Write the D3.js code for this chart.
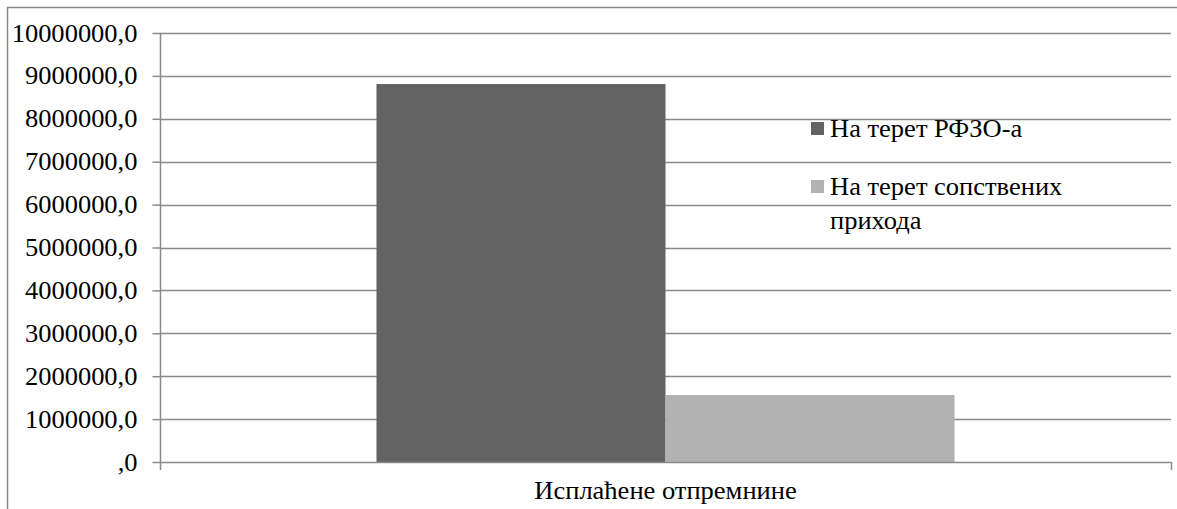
<!DOCTYPE html>
<html><head><meta charset="utf-8">
<script src="https://cdn.jsdelivr.net/npm/d3@7"></script>
</head><body style="margin:0;background:#fff">
<script>
const categories = ["Исплаћене отпремнине"];
const seriesNames = ["На терет РФЗО-а", "На терет сопствених прихода"];
const seriesValues = [[8810000], [1560000]];
const seriesColors = ["#636363", "#b2b2b2"];
const yTicks = [0,1000000,2000000,3000000,4000000,5000000,6000000,7000000,8000000,9000000,10000000];

const W = 1177, H = 509;
const svg = d3.select("body").append("svg").attr("width", W).attr("height", H).style("display","block");
const L = 160, R = 1171, T = 33, B = 462;
const grid = "#8a8a8a";
const FF = "'Liberation Serif'";
const setFont = sel => sel.style("font-family", FF, "important").style("font-size", "25px", "important").attr("fill", "#000");

svg.append("path").attr("d", `M7.5,${H} V7.5 H${W}`).attr("fill","none").attr("stroke", grid).attr("stroke-width",1.5);

const y = d3.scaleLinear().domain([0, 10000000]).range([B, T]);
const x0 = d3.scaleBand().domain(categories).range([L, R]).paddingInner(0).paddingOuter(0.3745);
const x1 = d3.scaleBand().domain(seriesNames).range([0, x0.bandwidth()]).padding(0);

svg.append("g").selectAll("line").data(yTicks.filter(d=>d>0)).join("line")
  .attr("x1", L).attr("x2", R).attr("y1", d=>Math.round(y(d))+0.5).attr("y2", d=>Math.round(y(d))+0.5)
  .attr("stroke", grid).attr("stroke-width", 1.5);

const g = svg.append("g");
categories.forEach((c, ci) => {
  seriesNames.forEach((s, si) => {
    const v = seriesValues[si][ci];
    g.append("rect").attr("x", x0(c) + x1(s)).attr("width", x1.bandwidth())
      .attr("y", y(v)).attr("height", y(0) - y(v)).attr("fill", seriesColors[si]);
  });
});

const fmt = d => d === 0 ? ",0" : d3.format("d")(d) + ",0";
const yAxis = d3.axisLeft(y).tickValues(yTicks).tickFormat(fmt).tickSize(8).tickPadding(15);
const ya = svg.append("g").attr("transform", `translate(${L+0.5},0)`).call(yAxis);
ya.attr("font-family", null).attr("font-size", null);
ya.select(".domain").remove();
ya.selectAll("line").attr("stroke", grid).attr("stroke-width", 1.5);
setFont(ya.selectAll("text"));
svg.append("line").attr("x1", L+0.5).attr("x2", L+0.5).attr("y1", T).attr("y2", 470).attr("stroke", grid).attr("stroke-width",1.5);

svg.append("line").attr("x1", L).attr("x2", R).attr("y1", B+0.5).attr("y2", B+0.5).attr("stroke", grid).attr("stroke-width",1.5);
svg.append("line").attr("x1", R+0.5).attr("x2", R+0.5).attr("y1", B).attr("y2", 470).attr("stroke", grid).attr("stroke-width",1.5);
setFont(svg.append("g").selectAll("text").data(categories).join("text")
  .attr("x", d => x0(d) + x0.bandwidth()/2).attr("y", 499).attr("text-anchor","middle").text(d => d));

const legend = svg.append("g");
const legendLines = [["На терет РФЗО-а"], ["На терет сопствених", "прихода"]];
const legendY = [137, 195];
legendLines.forEach((lines, i) => {
  legend.append("rect").attr("x", 811).attr("y", legendY[i]-15).attr("width", 13).attr("height", 13).attr("fill", seriesColors[i]);
  lines.forEach((t, j) => {
    setFont(legend.append("text").attr("x", 830).attr("y", legendY[i] + j*34).text(t));
  });
});

// slight horizontal stretch of the text, as in the reference
svg.selectAll("text").each(function() {
  const w = this.getComputedTextLength();
  d3.select(this).attr("textLength", w * 1.06).attr("lengthAdjust", "spacingAndGlyphs");
});
</script>
</body></html>
